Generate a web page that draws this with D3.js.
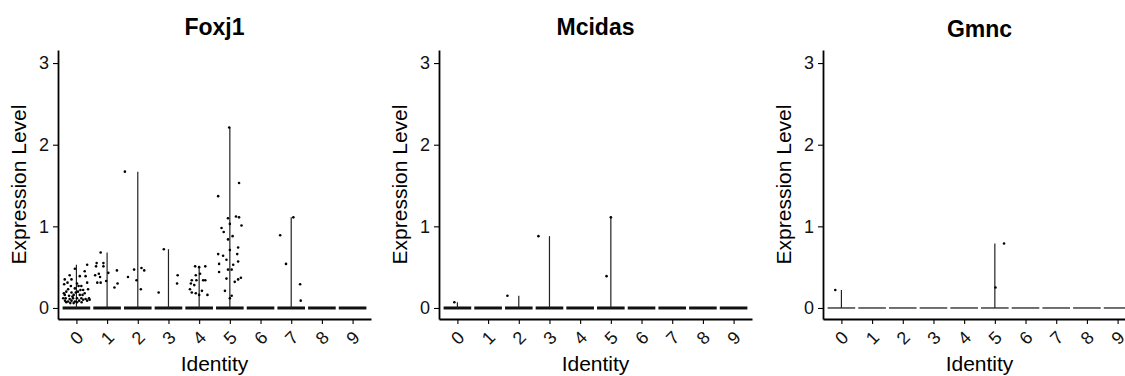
<!DOCTYPE html>
<html>
<head>
<meta charset="utf-8">
<script src="https://cdn.jsdelivr.net/npm/d3@7"></script>
<style>
  body { margin: 0; background: #fff; }
  svg { display: block; font-family: "Liberation Sans", Arial, sans-serif; }
</style>
</head>
<body>
<div id="chart"></div>
<script>
// cluster ids on the x axis
var clusters = ["0", "1", "2", "3", "4", "5", "6", "7", "8", "9"];
var yTicks = [0, 1, 2, 3];
var genes = ["Foxj1", "Mcidas", "Gmnc"];

// non-zero cells: [cluster, jitter (fraction of step), expression]
var foxj1Points = [
  [0, 0.35, 0.53], [0, -0.05, 0.48], [0, -0.22, 0.40], [0, -0.38, 0.35], [0, 0.11, 0.39],
  [0, 0.30, 0.39], [0, 0.27, 0.45], [0, -0.40, 0.29], [0, 0.02, 0.30], [0, 0.35, 0.31],
  [0, -0.18, 0.27], [0, 0.16, 0.27], [0, -0.05, 0.24], [0, 0.22, 0.22], [0, 0.38, 0.23],
  [0, -0.33, 0.20], [0, -0.16, 0.19], [0, 0.05, 0.20], [0, -0.38, 0.16], [0, -0.24, 0.15],
  [0, -0.09, 0.16], [0, 0.11, 0.16], [0, 0.27, 0.18], [0, 0.41, 0.12], [0, -0.35, 0.12],
  [0, -0.22, 0.11], [0, -0.11, 0.12], [0, 0.02, 0.12], [0, 0.16, 0.12], [0, 0.30, 0.11],
  [0, -0.37, 0.09], [0, -0.27, 0.08], [0, -0.16, 0.09], [0, -0.05, 0.08], [0, 0.09, 0.09],
  [0, 0.22, 0.10], [0, 0.35, 0.09], [0, -0.33, 0.07], [0, -0.20, 0.06], [0, -0.09, 0.06],
  [0, 0.02, 0.07], [0, 0.17, 0.07], [0, -0.41, 0.18], [0, -0.27, 0.23], [0, -0.02, 0.19],
  [0, 0.13, 0.22], [0, -0.13, 0.14], [0, -0.43, 0.12], [0, 0.20, 0.16], [0, 0.07, 0.27],
  [0, 0.43, 0.10], [0, -0.29, 0.31], [0, -0.16, 0.35],
  [1, -0.21, 0.68], [1, -0.34, 0.55], [1, -0.12, 0.55], [1, -0.36, 0.51], [1, -0.12, 0.51],
  [1, -0.39, 0.40], [1, -0.23, 0.38], [1, -0.32, 0.31], [1, -0.21, 0.31], [1, -0.03, 0.33],
  [1, 0.04, 0.43], [1, 0.32, 0.46], [1, 0.34, 0.30], [1, 0.24, 0.25], [1, -0.27, 0.42],
  [2, -0.42, 1.67], [2, -0.32, 0.38], [2, -0.12, 0.47], [2, 0.12, 0.49], [2, 0.21, 0.46],
  [2, -0.04, 0.34], [2, 0.10, 0.23],
  [3, -0.15, 0.72], [3, -0.32, 0.19], [3, 0.30, 0.40], [3, 0.28, 0.30],
  [4, -0.13, 0.51], [4, 0.00, 0.50], [4, 0.20, 0.51], [4, -0.11, 0.40], [4, 0.03, 0.42],
  [4, -0.24, 0.34], [4, -0.09, 0.34], [4, 0.13, 0.34], [4, -0.27, 0.30], [4, -0.16, 0.28],
  [4, -0.30, 0.23], [4, -0.24, 0.19], [4, -0.11, 0.18], [4, 0.09, 0.21], [4, 0.00, 0.16],
  [4, 0.27, 0.16], [4, 0.20, 0.34],
  [5, -0.02, 2.21], [5, 0.30, 1.53], [5, -0.38, 1.37], [5, -0.06, 1.10], [5, 0.20, 1.12],
  [5, 0.30, 1.11], [5, 0.00, 1.03], [5, 0.38, 1.01], [5, -0.27, 0.98], [5, -0.20, 0.93],
  [5, 0.09, 0.88], [5, -0.06, 0.84], [5, 0.00, 0.71], [5, 0.27, 0.74], [5, -0.38, 0.66],
  [5, -0.22, 0.64], [5, -0.11, 0.59], [5, -0.35, 0.54], [5, 0.11, 0.53], [5, -0.06, 0.47],
  [5, 0.06, 0.47], [5, 0.27, 0.57], [5, -0.35, 0.44], [5, -0.11, 0.36], [5, 0.16, 0.32],
  [5, 0.27, 0.35], [5, 0.36, 0.37], [5, -0.16, 0.21], [5, 0.06, 0.15], [5, 0.00, 0.12],
  [5, 0.24, 0.66],
  [7, -0.36, 0.89], [7, -0.17, 0.54], [7, 0.07, 1.11], [7, 0.29, 0.29], [7, 0.31, 0.09]
];
var mcidasPoints = [
  [0, -0.10, 0.07], [2, -0.37, 0.15], [3, -0.36, 0.88], [5, 0.00, 1.11], [5, -0.14, 0.39]
];
var gmncPoints = [
  [0, -0.20, 0.22], [5, 0.30, 0.79], [5, 0.02, 0.25]
];

var W = 1125, H = 376;
var svg = d3.select("#chart").append("svg")
  .attr("width", W)
  .attr("height", H);
svg.append("rect").attr("width", W).attr("height", H).attr("fill", "#fff");

var panels = [
  { gene: genes[0], points: foxj1Points, left: 58, zeroWidth: 3, titleY: 35 },
  { gene: genes[1], points: mcidasPoints, left: 439, zeroWidth: 3, titleY: 35 },
  { gene: genes[2], points: gmncPoints, left: 823, zeroWidth: 1.2, titleY: 37 }
];
// note: "top" is taken by window.top, so use other names
var plotW = 313, plotTop = 50, plotBottom = 319;

panels.forEach(function (p) {
  var g = svg.append("g");

  var x = d3.scalePoint()
    .domain(clusters)
    .range([p.left, p.left + plotW])
    .padding(0.6);
  var step = x.step();

  var y = d3.scaleLinear()
    .domain([-0.135, 3.16])
    .range([plotBottom, plotTop]);

  // violins: flat body at zero + thin tail up to the max
  clusters.forEach(function (c, i) {
    var vals = p.points.filter(function (d) { return d[0] === i; })
      .map(function (d) { return d[2]; });
    g.append("line")
      .attr("x1", x(c) - step * 0.45)
      .attr("x2", x(c) + step * 0.45)
      .attr("y1", y(0)).attr("y2", y(0))
      .attr("stroke", "#111")
      .attr("stroke-width", p.zeroWidth);
    if (vals.length) {
      g.append("line")
        .attr("x1", x(c)).attr("x2", x(c))
        .attr("y1", y(0)).attr("y2", y(d3.max(vals)))
        .attr("stroke", "#222")
        .attr("stroke-width", 1.2);
    }
  });

  // jittered cells
  g.selectAll("circle")
    .data(p.points)
    .enter()
    .append("circle")
    .attr("cx", function (d) { return x(clusters[d[0]]) + d[1] * step; })
    .attr("cy", function (d) { return y(d[2]); })
    .attr("r", 1.3)
    .attr("fill", "#000");

  // axes
  var yAxis = g.append("g")
    .attr("transform", "translate(" + p.left + ",0)")
    .call(d3.axisLeft(y).tickValues(yTicks).tickFormat(d3.format("d"))
      .tickSize(5).tickSizeOuter(0).tickPadding(4));
  var xAxis = g.append("g")
    .attr("transform", "translate(0," + plotBottom + ")")
    .call(d3.axisBottom(x).tickSize(5).tickSizeOuter(0));

  [yAxis, xAxis].forEach(function (a) {
    a.select(".domain").attr("stroke", "#000").attr("stroke-width", 1.8);
    a.selectAll(".tick line").attr("stroke", "#000").attr("stroke-width", 1.1);
    a.selectAll("text").attr("font-size", 18).attr("fill", "#111")
      .attr("font-family", "'Liberation Sans', Arial, sans-serif");
  });

  xAxis.selectAll(".tick text")
    .attr("y", 0)
    .attr("dy", null)
    .attr("text-anchor", "middle")
    .attr("dominant-baseline", "central")
    .attr("transform", "translate(0,19) rotate(-45)");

  // titles
  var cx = p.left + plotW / 2;
  g.append("text")
    .attr("x", cx).attr("y", p.titleY)
    .attr("text-anchor", "middle")
    .attr("font-size", 23)
    .attr("font-weight", "bold")
    .text(p.gene);

  g.append("text")
    .attr("x", cx).attr("y", 371)
    .attr("text-anchor", "middle")
    .attr("font-size", 21)
    .text("Identity");

  g.append("text")
    .attr("transform", "translate(" + (p.left - 32) + "," + ((plotTop + plotBottom) / 2) + ") rotate(-90)")
    .attr("text-anchor", "middle")
    .attr("font-size", 21)
    .text("Expression Level");
});
</script>
</body>
</html>
